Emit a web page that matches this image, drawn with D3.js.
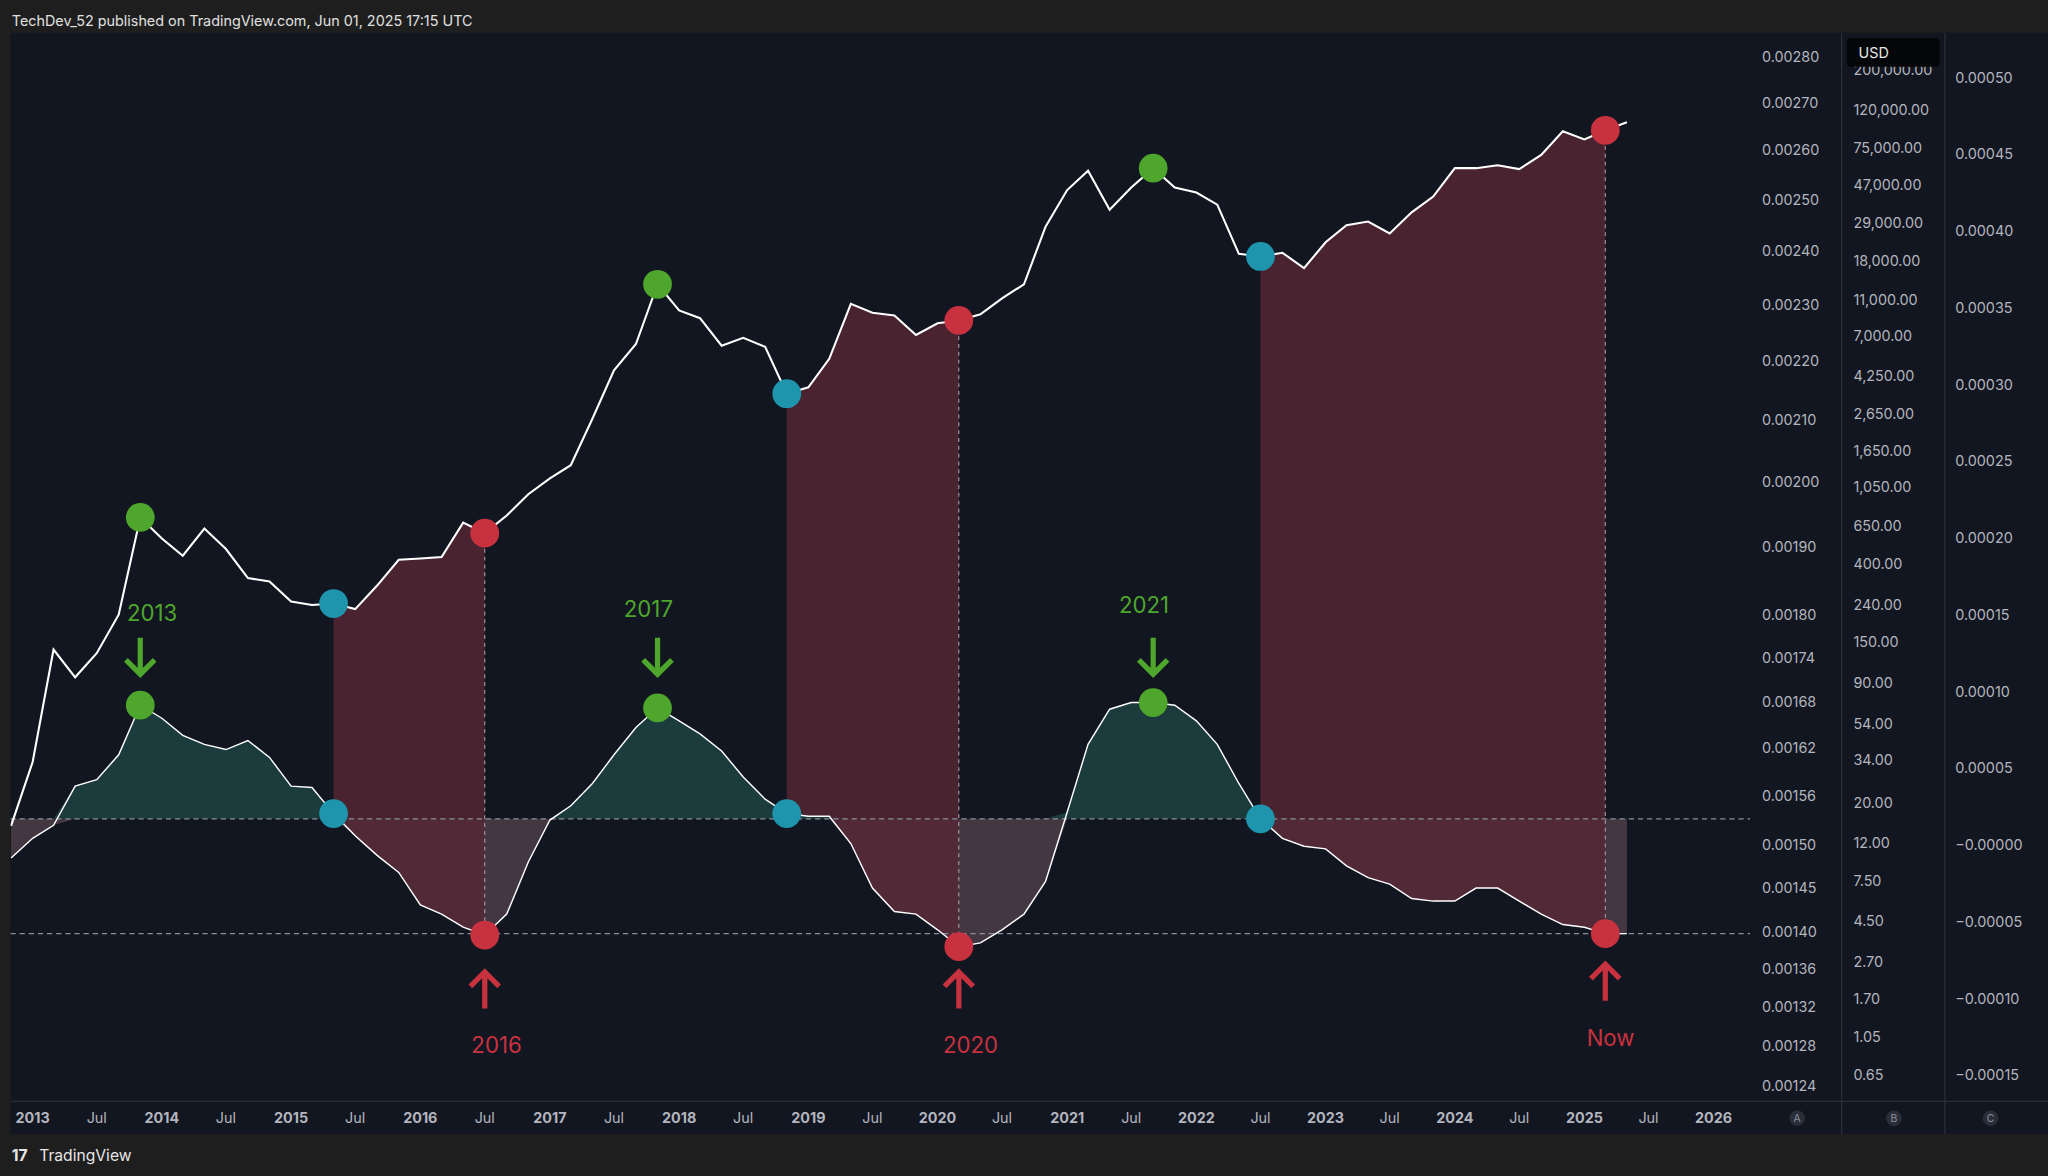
<!DOCTYPE html>
<html><head><meta charset="utf-8">
<script src="https://cdn.jsdelivr.net/npm/d3@7"></script>
<style>body{margin:0;background:#1e1e1e;overflow:hidden}</style>
</head><body><svg id="c"></svg>
<script>
// bi-monthly samples from Nov 2012
const startMonth = new Date(2012, 10, 1);
const ratio = [0.001523,0.001602,0.001751,0.001713,0.001746,0.001800,0.001944,0.001912,0.001886,0.001927,
  0.001896,0.001853,0.001848,0.001819,0.001814,0.001816,0.001808,0.001842,0.001880,0.001882,
  0.001884,0.001936,0.001920,0.001947,0.001980,0.002005,0.002026,0.002102,0.002184,0.002230,
  0.002338,0.002290,0.002276,0.002227,0.002241,0.002225,0.002144,0.002155,0.002204,0.002302,
  0.002286,0.002281,0.002246,0.002267,0.002272,0.002283,0.002312,0.002338,0.002447,0.002519,
  0.002558,0.002480,0.002524,0.002563,0.002524,0.002514,0.002490,0.002395,0.002390,0.002397,
  0.002368,0.002417,0.002450,0.002457,0.002434,0.002475,0.002506,0.002563,0.002563,0.002569,
  0.002561,0.002590,0.002639,0.002622,0.002641,0.002658];
const osc = [-0.85,0.43,1.28,3.83,4.25,5.87,9.10,8.25,7.14,6.55,6.21,6.80,5.70,3.83,3.74,2.04,0.60,-0.68,-1.79,-3.91,
  -4.51,-5.36,-5.87,-4.51,-1.11,1.62,2.55,4.00,5.87,7.65,8.93,8.08,7.23,6.12,4.42,2.98,2.04,1.87,1.87,0.09,
  -2.81,-4.34,-4.51,-5.53,-6.63,-6.38,-5.53,-4.51,-2.38,2.13,6.55,8.84,9.27,9.27,9.10,8.08,6.55,4.00,1.70,0.43,
  -0.09,-0.26,-1.36,-2.13,-2.55,-3.49,-3.66,-3.66,-2.81,-2.81,-3.66,-4.51,-5.19,-5.36,-5.78,-5.78]; // x1e-5
const upperLevel = 1.70, lowerLevel = -5.78;
const tops = [6, 30, 53];        // green signals
const crosses = [15, 36, 58];    // cyan signals
const bottoms = [22, 44, 74];    // red signals
const topLabels = ["2013", "2017", "2021"];
const bottomLabels = ["2016", "2020", "Now"];
const ratioTicks = [0.00280,0.00270,0.00260,0.00250,0.00240,0.00230,0.00220,0.00210,0.00200,0.00190,0.00180,0.00174,0.00168,0.00162,0.00156,0.00150,0.00145,0.00140,0.00136,0.00132,0.00128,0.00124];
const usdTicks = [200000,120000,75000,47000,29000,18000,11000,7000,4250,2650,1650,1050,650,400,240,150,90,54,34,20,12,7.5,4.5,2.7,1.7,1.05,0.65];
const oscTicks = [50,45,40,35,30,25,20,15,10,5,0,-5,-10,-15];

const W = 1568, H = 900;
const svg = d3.select("#c").attr("width", 2048).attr("height", 1176).attr("viewBox", [0, 0, W, H])
  .style("font-family", "Inter, 'Noto Sans', sans-serif");
const data = ratio.map((r, i) => ({date: d3.timeMonth.offset(startMonth, 2 * i), r, o: osc[i]}));

const x = d3.scaleTime().domain([new Date(2013,0,1), new Date(2026,0,1)]).range([25, 1312]);
const yR = d3.scaleLog().domain([0.00124, 0.0028]).range([831, 43]);
const yO = d3.scaleLinear().domain([-15, 50]).range([823, 59]);
const yU = d3.scaleLog().domain([0.65, 120000]).range([823, 84]);

svg.append("rect").attr("width", W).attr("height", H).attr("fill", "#1e1e1e");
svg.append("rect").attr("x", 8).attr("y", 25).attr("width", W - 8).attr("height", 843).attr("fill", "#121620");
svg.append("text").attr("x", 9).attr("y", 20).attr("fill", "#e0e0e0").attr("font-size", 11).text("TechDev_52 published on TradingView.com, Jun 01, 2025 17:15 UTC");

const defs = svg.append("defs");
defs.append("clipPath").attr("id", "plot").append("rect").attr("x", 8).attr("y", 25).attr("width", 1332).attr("height", 818);
const g = svg.append("g").attr("clip-path", "url(#plot)");

const up = yO(upperLevel), lo = yO(lowerLevel);
// light area where osc sits below the upper level
g.append("path").datum(data)
  .attr("d", d3.area().x(d => x(d.date)).y0(up).y1(d => yO(Math.min(d.o, upperLevel))))
  .attr("fill", "rgba(170,130,140,0.32)");
// green area where osc sits above the upper level
g.append("path").datum(data)
  .attr("d", d3.area().x(d => x(d.date)).y0(up).y1(d => yO(Math.max(d.o, upperLevel))))
  .attr("fill", "rgba(40,105,95,0.45)");
// red bands between cyan and red signals
crosses.forEach((c, k) => {
  const seg = data.slice(c, bottoms[k] + 1);
  g.append("path").datum(seg)
    .attr("d", d3.area().x(d => x(d.date)).y0(d => yO(d.o)).y1(d => yR(d.r)))
    .attr("fill", "rgba(85,38,52,0.82)");
});

g.selectAll(".lvl").data([up, lo]).join("line")
  .attr("x1", 8).attr("x2", 1340).attr("y1", d => d).attr("y2", d => d)
  .attr("stroke", "#8a8f9c").attr("stroke-dasharray", "4,3").attr("stroke-width", 0.9);
g.selectAll(".vl").data(bottoms).join("line")
  .attr("x1", i => x(data[i].date)).attr("x2", i => x(data[i].date))
  .attr("y1", i => yR(data[i].r)).attr("y2", i => yO(data[i].o))
  .attr("stroke", "#b0a0a8").attr("stroke-dasharray", "3,3").attr("stroke-width", 0.8);

g.append("path").datum(data).attr("fill", "none").attr("stroke", "#ffffff").attr("stroke-width", 1.6)
  .attr("d", d3.line().x(d => x(d.date)).y(d => yR(d.r)));
g.append("path").datum(data).attr("fill", "none").attr("stroke", "#ffffff").attr("stroke-width", 1.1)
  .attr("d", d3.line().x(d => x(d.date)).y(d => yO(d.o)));

const dots = (idx, col) => idx.forEach(i => {
  [yR(data[i].r), yO(data[i].o)].forEach(cy =>
    g.append("circle").attr("cx", x(data[i].date)).attr("cy", cy).attr("r", 11).attr("fill", col));
});
dots(tops, "#4ea62c"); dots(crosses, "#1e95ad"); dots(bottoms, "#c8323f");

const arrow = (cx, y1, y2, col) => {
  const dir = Math.sign(y2 - y1);
  g.append("path").attr("d", `M${cx},${y1}V${y2}M${cx - 11},${y2 - dir * 11}L${cx},${y2}L${cx + 11},${y2 - dir * 11}`)
    .attr("stroke", col).attr("stroke-width", 4).attr("fill", "none");
};
const topDx = [9, -7, -7];
tops.forEach((i, k) => {
  const cx = x(data[i].date);
  arrow(cx, 488, 516, "#4ea62c");
  g.append("text").attr("x", cx + topDx[k]).attr("y", [475, 472, 469][k]).attr("text-anchor", "middle").attr("fill", "#4ea62c").attr("font-size", 17).text(topLabels[k]);
});
bottoms.forEach((i, k) => {
  const cx = x(data[i].date);
  const base = k === 2 ? 766 : 772;
  arrow(cx, base, base - 28, "#c8323f");
  g.append("text").attr("x", cx + (k === 2 ? 4 : 9)).attr("y", k === 2 ? 801 : 806).attr("text-anchor", "middle").attr("fill", "#c8323f").attr("font-size", 17).text(bottomLabels[k]);
});

// axes
const tcol = "#b2b5be";
svg.selectAll(".rt").data(ratioTicks).join("text").attr("x", 1349).attr("y", d => yR(d) + 4)
  .attr("fill", tcol).attr("font-size", 11).text(d => d.toFixed(5));
svg.selectAll(".ut").data(usdTicks).join("text").attr("x", 1419).attr("y", d => yU(d) + 4)
  .attr("fill", tcol).attr("font-size", 11).text(d => d3.format(",.2f")(d));
svg.append("rect").attr("x", 1414).attr("y", 29).attr("width", 71).attr("height", 22).attr("rx", 3).attr("fill", "#050608");
svg.append("text").attr("x", 1423).attr("y", 44).attr("fill", "#e6e6e6").attr("font-size", 11).text("USD");
svg.selectAll(".ot").data(oscTicks).join("text").attr("x", 1497).attr("y", d => yO(d) + 4)
  .attr("fill", tcol).attr("font-size", 11).text(d => (d <= 0 ? "\u2212" : "") + (Math.abs(d) * 1e-5).toFixed(5));
svg.append("line").attr("x1", 1410).attr("x2", 1410).attr("y1", 25).attr("y2", 868).attr("stroke", "#2a2e39");
svg.append("line").attr("x1", 1489).attr("x2", 1489).attr("y1", 25).attr("y2", 868).attr("stroke", "#2a2e39");
svg.append("line").attr("x1", 8).attr("x2", W).attr("y1", 843).attr("y2", 843).attr("stroke", "#2a2e39");

const xt = [];
for (let yr = 2013; yr <= 2026; yr++) { xt.push(new Date(yr, 0, 1)); if (yr < 2026) xt.push(new Date(yr, 6, 1)); }
svg.selectAll(".xt").data(xt).join("text").attr("x", d => x(d)).attr("y", 860).attr("text-anchor", "middle")
  .attr("fill", tcol).attr("font-size", 11).attr("font-weight", d => d.getMonth() === 0 ? 700 : 400)
  .text(d => d.getMonth() === 0 ? d.getFullYear() : "Jul");
["A", "B", "C"].forEach((t, k) => {
  const cx = [1376, 1450, 1524][k];
  svg.append("circle").attr("cx", cx).attr("cy", 856).attr("r", 6).attr("fill", "#2a2e39");
  svg.append("text").attr("x", cx).attr("y", 859).attr("text-anchor", "middle").attr("fill", "#8a8f9c").attr("font-size", 8).text(t);
});
svg.append("text").attr("x", 9).attr("y", 889).attr("fill", "#e6e6e6").attr("font-size", 12).attr("font-weight", 700).text("17");
svg.append("text").attr("x", 30).attr("y", 889).attr("fill", "#e6e6e6").attr("font-size", 12).text("TradingView");
</script></body></html>
